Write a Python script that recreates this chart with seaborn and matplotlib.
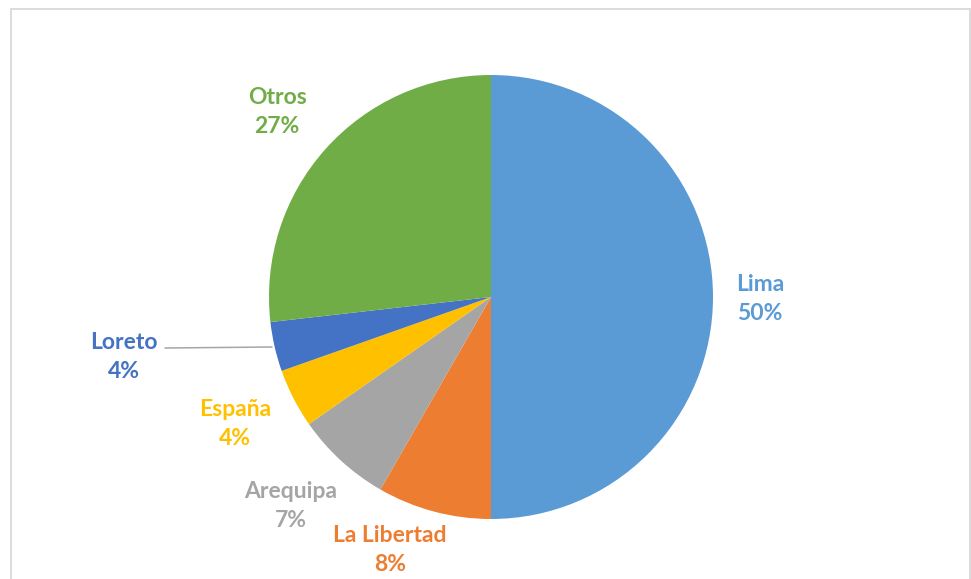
import matplotlib
matplotlib.use("Agg")
import matplotlib.pyplot as plt
import seaborn as sns

# ── Données ──────────────────────────────────────────────────────────────────
regiones = ["Lima", "La Libertad", "Arequipa", "España", "Loreto", "Otros"]
porcentajes = [50.0, 8.3, 7.0, 4.3, 3.6, 26.8]
colores = ["#5B9BD5", "#ED7D31", "#A5A5A5", "#FFC000", "#4472C4", "#70AD47"]
# posiciones de las etiquetas (pixeles, y hacia abajo)
etiq_x = [760, 390, 291, 235, 124, 277]
etiq_y = [299, 550, 506, 424, 357, 112]

W, H = 971, 579

sns.set_theme(style="white")
plt.rcParams["font.family"] = ["Lato", "DejaVu Sans"]

fig = plt.figure(figsize=(W / 100, H / 100), dpi=100)
ax = fig.add_axes([0, 0, 1, 1])

# marco del gráfico
ax.plot([11, 11, 970, 970], [0, H - 9, H - 9, 0], color="#D9D9D9", lw=1.3,
        solid_joinstyle="miter")

pal = sns.color_palette(colores)
ax.pie(porcentajes, colors=pal, startangle=90, counterclock=False,
       center=(491, H - 297), radius=222, frame=True,
       wedgeprops=dict(linewidth=0))
ax.set_xlim(0, W)
ax.set_ylim(0, H)
ax.set_aspect("equal")
ax.axis("off")

for reg, val, col, x, y in zip(regiones, porcentajes, colores, etiq_x, etiq_y):
    ax.text(x, H - y, f"{reg}\n{val:.0f}%", color=col, ha="center", va="center",
            fontsize=16.5, fontweight="bold", linespacing=1.5)

# línea guía de Loreto
ax.plot([165, 272], [H - 348, H - 347], color="#A6A6A6", lw=1.1)

fig.savefig("out.png", dpi=100)
